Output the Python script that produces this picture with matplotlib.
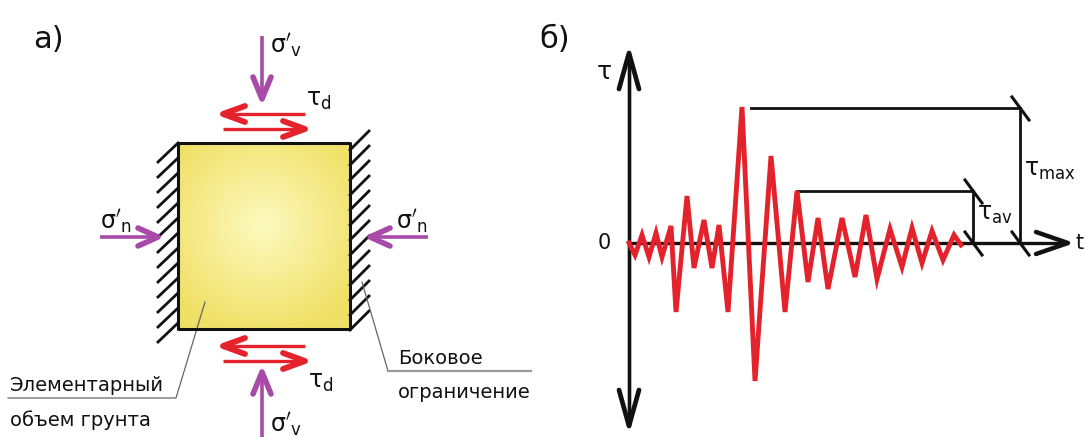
import numpy as np
import matplotlib.pyplot as plt

plt.rcParams['font.family'] = ['DejaVu Sans']
plt.rcParams['mathtext.fontset'] = 'dejavusans'

# ──────────────────────────────────────────────
# Data (signal b: time offset / stress offset from origin, px)
# ──────────────────────────────────────────────
sig_t = [0, 6, 13, 20, 27, 33, 42, 47, 58, 65, 75, 83, 90, 99, 113, 126,
         142, 156, 168, 179, 189, 199, 213, 226, 237, 248, 261, 273, 283,
         293, 303, 314, 325, 332]
sig_tau = [0, -12, 8, -14, 10, -14, 17, -69, 47, -25, 23, -25, 18, -69,
           136, -138, 87, -69, 52, -39, 25, -46, 25, -34, 28, -36, 14,
           -24, 15, -20, 12, -17, 8, -2]
tau_max = 135
tau_av = 52
t_max_mark = 391   # t position of tau_max dimension line
t_av_mark = 344    # t position of tau_av dimension line

RED = "#e4222b"
PURPLE = "#a84aa8"
BLACK = "#111111"


def arrow(ax, x0, y0, x1, y1, color, lw=2.2, head_len=20, head_w=9, head_lw=None):
    """Straight shaft with an open chevron head at (x1, y1)."""
    head_lw = head_lw or lw * 1.6
    ax.plot([x0, x1], [y0, y1], color=color, lw=lw, solid_capstyle="butt")
    d = np.array([x1 - x0, y1 - y0], dtype=float)
    u = d / np.hypot(*d)
    n = np.array([-u[1], u[0]])
    tip = np.array([x1, y1], dtype=float)
    base = tip - head_len * u
    p1 = base + head_w * n
    p2 = base - head_w * n
    ax.plot([p1[0], tip[0], p2[0]], [p1[1], tip[1], p2[1]], color=color,
            lw=head_lw, solid_joinstyle="round", solid_capstyle="round")


fig = plt.figure(figsize=(10.86, 4.37), dpi=100)
ax = fig.add_axes([0, 0, 1, 1])
ax.set_xlim(0, 1086)
ax.set_ylim(437, 0)
ax.axis("off")

# ──────────────────────────────────────────────
# Panel a: soil element
# ──────────────────────────────────────────────
ax.text(48, 40, "а)", fontsize=22, ha="center", va="center", color=BLACK)

L, R, T, B = 178, 350, 143, 329
yy, xx = np.mgrid[T:B, L:R]
r = np.hypot((xx - 262) / 110.0, (yy - 225) / 110.0)
r = np.clip(r, 0, 1)
c_in = np.array([0.99, 0.98, 0.75])
c_out = np.array([0.94, 0.88, 0.40])
img = c_in[None, None, :] * (1 - r[..., None]) + c_out[None, None, :] * r[..., None]
ax.imshow(img, extent=(L, R, B, T), origin="upper", aspect="auto", zorder=1)
ax.plot([L, R, R, L, L], [T, T, B, B, T], color=BLACK, lw=2.2, zorder=3)

# wall hatching
for y in np.arange(143, 330, 15):
    ax.plot([158, 178], [y + 19, y], color=BLACK, lw=2.0)
for y in np.arange(150, 340, 15):
    ax.plot([350, 369], [y, y - 19], color=BLACK, lw=2.0)

# normal stresses
arrow(ax, 262, 36, 262, 99, PURPLE, lw=2.6, head_len=22, head_w=9, head_lw=4)
arrow(ax, 262, 437, 262, 372, PURPLE, lw=2.6, head_len=22, head_w=9, head_lw=4)
arrow(ax, 100, 237, 158, 237, PURPLE, lw=2.6, head_len=20, head_w=9, head_lw=4)
arrow(ax, 428, 237, 370, 237, PURPLE, lw=2.6, head_len=20, head_w=9, head_lw=4)

ax.text(270, 45, r"$\mathrm{σ'_{v}}$", fontsize=17, ha="left", va="center", color=BLACK)
ax.text(270, 424, r"$\mathrm{σ'_{v}}$", fontsize=17, ha="left", va="center", color=BLACK)
ax.text(100, 221, r"$\mathrm{σ'_{n}}$", fontsize=17, ha="left", va="center", color=BLACK)
ax.text(396, 221, r"$\mathrm{σ'_{n}}$", fontsize=17, ha="left", va="center", color=BLACK)

# shear stresses
arrow(ax, 305, 114, 223, 114, RED, lw=2.4, head_len=22, head_w=8, head_lw=4.2)
arrow(ax, 223, 129, 305, 129, RED, lw=2.4, head_len=22, head_w=8, head_lw=4.2)
arrow(ax, 305, 346, 223, 346, RED, lw=2.4, head_len=22, head_w=8, head_lw=4.2)
arrow(ax, 223, 361, 305, 361, RED, lw=2.4, head_len=22, head_w=8, head_lw=4.2)
ax.text(306, 100, r"$\mathrm{τ_{d}}$", fontsize=17, ha="left", va="center", color=BLACK)
ax.text(308, 382, r"$\mathrm{τ_{d}}$", fontsize=17, ha="left", va="center", color=BLACK)

# leader notes
ax.plot([8, 176, 205], [398, 398, 302], color="#666666", lw=0.9)
ax.text(10, 395, "Элементарный", fontsize=14, ha="left", va="bottom", color=BLACK)
ax.text(10, 420, "объем грунта", fontsize=14, ha="left", va="center", color=BLACK)

ax.plot([362, 388], [282, 371], color="#666666", lw=0.9)
ax.plot([388, 531], [371, 371], color="#9a9a9a", lw=1.6)
ax.text(398, 368, "Боковое", fontsize=14, ha="left", va="bottom", color=BLACK)
ax.text(398, 392, "ограничение", fontsize=14, ha="left", va="center", color=BLACK)

# ──────────────────────────────────────────────
# Panel b: shear stress history
# ──────────────────────────────────────────────
ax.text(555, 40, "б)", fontsize=22, ha="center", va="center", color=BLACK)

x0, y0 = 629, 243
arrow(ax, x0, 426, x0, 53, BLACK, lw=2.4, head_len=36, head_w=10, head_lw=3.4)
arrow(ax, x0, 60, x0, 426, BLACK, lw=2.4, head_len=36, head_w=10, head_lw=3.4)
arrow(ax, x0, y0, 1068, y0, BLACK, lw=2.4, head_len=32, head_w=11, head_lw=3.2)
ax.text(604, 72, r"$\mathrm{τ}$", fontsize=18, ha="center", va="center", color=BLACK)
ax.text(604, 243, "0", fontsize=15, ha="center", va="center", color=BLACK)
ax.text(1076, 243, "t", fontsize=15, ha="left", va="center", color=BLACK)

ax.plot([x0 + t for t in sig_t], [y0 - v for v in sig_tau], color=RED, lw=3.5,
        solid_joinstyle="miter", zorder=4)

# dimension lines
xm = x0 + t_max_mark
xa = x0 + t_av_mark
ax.plot([751, xm], [y0 - tau_max, y0 - tau_max], color=BLACK, lw=2.0)
ax.plot([xm, xm], [y0 - tau_max, y0], color=BLACK, lw=2.0)
ax.plot([797, xa], [y0 - tau_av, y0 - tau_av], color=BLACK, lw=2.0)
ax.plot([xa, xa], [y0 - tau_av, y0], color=BLACK, lw=2.0)
for xc, yc in [(xm, y0 - tau_max), (xm, y0), (xa, y0 - tau_av), (xa, y0)]:
    ax.plot([xc - 8, xc + 9], [yc - 11, yc + 12], color=BLACK, lw=2.2)

ax.text(xm + 4, 170, r"$\mathrm{τ_{max}}$", fontsize=17, ha="left", va="center",
        color=BLACK)
ax.text(xa + 4, 214, r"$\mathrm{τ_{av}}$", fontsize=17, ha="left", va="center",
        color=BLACK)

fig.savefig("out.png", dpi=100)
